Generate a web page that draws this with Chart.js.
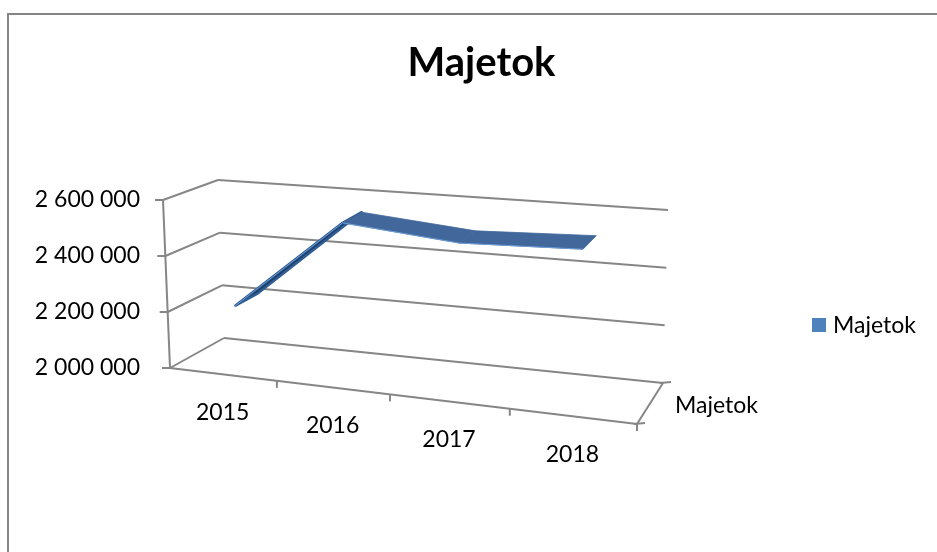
<!DOCTYPE html>
<html>
<head>
<meta charset="utf-8">
<title>Majetok</title>
<script src="https://cdn.jsdelivr.net/npm/chart.js@4.4.1/dist/chart.umd.min.js"></script>
<style>
  html, body { margin: 0; padding: 0; background: #fff; }
</style>
</head>
<body>
<canvas id="majetokChart" width="937" height="552"></canvas>
<script>
const years = ['2015', '2016', '2017', '2018']
const majetok = [2215000, 2547000, 2512000, 2528000]
const yTicks = [2000000, 2200000, 2400000, 2600000]
const seriesName = 'Majetok'
const chartTitle = 'Majetok'

const gridColor = '#868686'
const ribbonColor = '#41679b'
const ribbonDark = '#1f3c63'
const ribbonEdge = '#6a9ad6'
const legendSpot = [812, 325]

// corners of the 3d box: front face and back wall (pixels)
const box = {
    front: { bl: [170, 368], br: [637, 424], tl: [163, 200], tr: [640, 243] },
    back: { bl: [224, 338], br: [663, 383], tl: [218, 180], tr: [668, 210] }
}
const persp = 1.123
const ribbonDepth = [0.29, 0.71]

function lerp(a, b, t) {
    return [a[0] + (b[0] - a[0]) * t, a[1] + (b[1] - a[1]) * t]
}
function face(f, u, v) {
    return lerp(lerp(f.bl, f.br, u), lerp(f.tl, f.tr, u), v)
}
function project(u, v, d) {
    const uu = u / (persp - (persp - 1) * u)
    return lerp(face(box.front, uu, v), face(box.back, uu, v), d)
}
// pixel from the chart's scales -> 0..1 inside the chart area
function toUV(chart, x, y) {
    const a = chart.chartArea
    return [(x - a.left) / (a.right - a.left), (a.bottom - y) / (a.bottom - a.top)]
}
function fmt(value) {
    return String(value).replace(/\B(?=(\d{3})+(?!\d))/g, ' ')
}

const frame3d = {
    id: 'frame3d',
    beforeDraw(chart) {
        const ctx = chart.ctx
        ctx.save()
        ctx.strokeStyle = '#858585'
        ctx.lineWidth = 2
        ctx.strokeRect(8, 14, 990, 620)
        ctx.restore()
    },
    beforeDatasetsDraw(chart) {
        const ctx = chart.ctx
        const ys = chart.scales.y
        const xs = chart.scales.x
        ctx.save()
        ctx.strokeStyle = gridColor
        ctx.lineWidth = 2
        function line(p, q) {
            ctx.beginPath()
            ctx.moveTo(p[0], p[1])
            ctx.lineTo(q[0], q[1])
            ctx.stroke()
        }
        ys.ticks.forEach(t => {
            const v = toUV(chart, 0, ys.getPixelForValue(t.value))[1]
            line(project(0, v, 0), project(0, v, 1))
            line(project(0, v, 1), project(1, v, 1))
            const p = project(0, v, 0)
            line([p[0] - 8, p[1]], p)
        })
        line(project(0, 0, 0), project(0, 1, 0))
        line(project(0, 0, 0), project(1, 0, 0))
        line(project(1, 0, 0), project(1, 0, 1))
        for (let i = 0; i < years.length; i++) {
            const u = toUV(chart, xs.getPixelForValue(i + 0.5), 0)[0]
            const p = project(u, 0, 0)
            line(p, [p[0], p[1] + 7])
        }
        const fr = project(1, 0, 0)
        const bk = project(1, 0, 1)
        line([fr[0] - 3, fr[1]], [fr[0] + 8, fr[1] - 1])
        line([bk[0] - 3, bk[1]], [bk[0] + 8, bk[1] - 1])
        ctx.restore()
    },
    afterDatasetsDraw(chart) {
        const ctx = chart.ctx
        const pts = chart.getDatasetMeta(0).data.map(el => toUV(chart, el.x, el.y))
        ctx.save()
        ctx.lineJoin = 'round'
        for (let i = 0; i < pts.length - 1; i++) {
            const a = pts[i]
            const b = pts[i + 1]
            const f1 = project(a[0], a[1], ribbonDepth[0])
            const f2 = project(b[0], b[1], ribbonDepth[0])
            const b2 = project(b[0], b[1], ribbonDepth[1])
            const b1 = project(a[0], a[1], ribbonDepth[1])
            const rising = b[1] > a[1] + 0.1
            ctx.beginPath()
            ctx.moveTo(f1[0], f1[1])
            ctx.lineTo(f2[0], f2[1])
            ctx.lineTo(b2[0], b2[1])
            ctx.lineTo(b1[0], b1[1])
            ctx.closePath()
            ctx.fillStyle = rising ? ribbonDark : ribbonColor
            ctx.fill()
            ctx.strokeStyle = rising ? '#2f5d94' : ribbonColor
            ctx.lineWidth = rising ? 2.5 : 0.8
            ctx.stroke()
            ctx.beginPath()
            ctx.moveTo(f1[0], f1[1])
            ctx.lineTo(f2[0], f2[1])
            ctx.strokeStyle = ribbonEdge
            ctx.lineWidth = 1
            ctx.stroke()
        }
        ctx.restore()
    },
    afterDraw(chart) {
        const ctx = chart.ctx
        const xs = chart.scales.x
        ctx.save()
        ctx.fillStyle = '#000'
        ctx.font = '23px Lato, "Open Sans", sans-serif'
        ctx.textAlign = 'center'
        ctx.textBaseline = 'middle'
        years.forEach((yr, i) => {
            const u = toUV(chart, xs.getPixelForValue(i), 0)[0]
            const p = project(u, 0, 0)
            ctx.fillText(yr, p[0], p[1] + 38)
        })
        const mid = project(1, 0, 0.5)
        ctx.textAlign = 'left'
        ctx.fillText(seriesName, mid[0] + 25, mid[1] + 2)

        // legend, right side
        const ds = chart.data.datasets[0]
        ctx.fillStyle = ds.backgroundColor
        ctx.fillRect(legendSpot[0], legendSpot[1] - 7, 14, 14)
        ctx.fillStyle = '#000'
        ctx.fillText(ds.label, legendSpot[0] + 21, legendSpot[1] + 1)
        ctx.restore()
    }
}

Chart.defaults.font.family = 'Lato, "Open Sans", sans-serif'
Chart.defaults.color = '#000'

const canvas = document.getElementById('majetokChart')
new Chart(canvas, {
    type: 'line',
    data: {
        labels: years,
        datasets: [{
            label: seriesName,
            data: majetok,
            backgroundColor: '#4f81bd',
            borderColor: '#4f81bd',
            borderWidth: 0,
            showLine: false,
            pointRadius: 0,
            pointHoverRadius: 0
        }]
    },
    options: {
        responsive: false,
        animation: false,
        events: [],
        layout: {
            padding: { top: 0, left: 26, right: 0, bottom: 102 }
        },
        scales: {
            x: {
                offset: true,
                grid: { display: false, drawTicks: false },
                border: { display: false },
                ticks: { display: false },
                afterFit(scale) { scale.height = 82 }
            },
            y: {
                min: yTicks[0],
                max: yTicks[yTicks.length - 1],
                grid: { display: false, drawTicks: false },
                border: { display: false },
                afterBuildTicks(scale) {
                    scale.ticks = yTicks.map(v => ({ value: v }))
                },
                ticks: {
                    padding: 30,
                    font: { size: 23 },
                    color: '#000',
                    callback: value => fmt(value)
                },
                afterFit(scale) { scale.width = 144 }
            }
        },
        plugins: {
            title: {
                display: true,
                text: chartTitle,
                color: '#000',
                font: { size: 40, weight: 'bold' },
                padding: { top: 39, bottom: 113 }
            },
            legend: { display: false },
            tooltip: { enabled: false }
        }
    },
    plugins: [frame3d]
})
</script>
</body>
</html>
